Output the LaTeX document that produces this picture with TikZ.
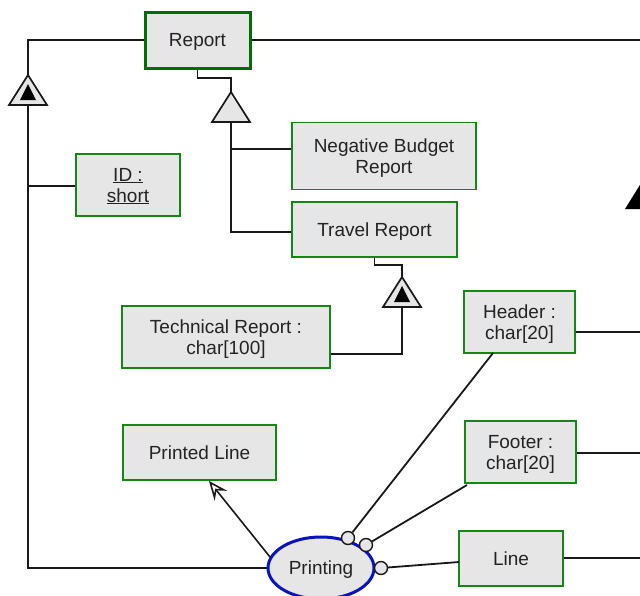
\documentclass[tikz,border=0pt]{standalone}
\usepackage{fontspec}
\setmainfont{Liberation Sans}
\usetikzlibrary{arrows.meta,shapes.geometric,calc}

\definecolor{boxfill}{RGB}{230,230,230}
\definecolor{boxgreen}{RGB}{20,135,20}
\definecolor{rootgreen}{RGB}{0,110,0}
\definecolor{ovalblue}{RGB}{10,20,190}
\definecolor{inktext}{RGB}{35,35,35}

\begin{document}
\begin{tikzpicture}[x=1pt,y=-1pt,
  labelfont/.style={font=\fontsize{19}{21}\selectfont, text=inktext, text depth=0pt},
  entity/.style={rectangle, draw=boxgreen, line width=1.7pt, fill=boxfill,
    inner sep=0pt, align=center, labelfont},
  rootentity/.style={entity, draw=rootgreen, line width=3pt},
  process/.style={ellipse, draw=ovalblue, line width=3pt, fill=boxfill,
    inner sep=0pt, labelfont},
  link/.style={draw=black!90, line width=1.8pt},
  isa/.style={draw=black!90, line width=1.7pt, fill=boxfill, line join=miter},
  port/.style={circle, draw=black!90, line width=1.4pt, fill=boxfill,
    minimum size=13pt, inner sep=0pt},
  pointer/.style={link, line width=1.6pt,
    -{Stealth[length=19pt, width=16pt, inset=7pt, fill=white]}},
]
\clip (0,0) rectangle (640,595);

% ---- entities ----
\node[rootentity, minimum width=105pt, minimum height=56pt] (report) at (197.5,40) {Report};
\node[entity, minimum width=184pt, minimum height=67pt] (neg) at (384,156) {Negative Budget\\Report};
\node[entity, minimum width=165pt, minimum height=55pt] (travel) at (374.5,229.5) {Travel Report};
\node[entity, minimum width=104pt, minimum height=62pt] (id) at (128,185) {\underline{ID :}\\\underline{short}};
\node[entity, minimum width=208pt, minimum height=62pt] (tech) at (226,337) {Technical Report :\\char[100]};
\node[entity, minimum width=111pt, minimum height=62pt] (header) at (519.5,322) {Header :\\char[20]};
\node[entity, minimum width=111pt, minimum height=62pt] (footer) at (520.5,452) {Footer :\\char[20]};
\node[entity, minimum width=153pt, minimum height=55pt] (printed) at (199.5,452.5) {Printed Line};
\node[entity, minimum width=104pt, minimum height=55pt] (line) at (511,558.5) {Line};
\node[process, minimum width=106pt, minimum height=62pt] (printing) at (321,568) {Printing};

% ---- helper points ----
\coordinate (k1) at (28,40);
\coordinate (a1) at (28,75);
\coordinate (b1) at (28,105);
\coordinate (j1) at (28,186);
\coordinate (k2) at (28,568);
\coordinate (e1) at (640,40);

\coordinate (k3) at (231,78);
\coordinate (a2) at (231,92);
\coordinate (b2) at (231,122);
\coordinate (j2) at (231,149);
\coordinate (k4) at (231,232);

\coordinate (k5) at (402,265);
\coordinate (a3) at (402,277);
\coordinate (b3) at (402,307);
\coordinate (k6) at (402,354);

\coordinate (e2) at (640,332);
\coordinate (e3) at (640,453);
\coordinate (e4) at (640,558);

\coordinate (hb) at (493,353);
\coordinate (fb) at (467,485);
\coordinate (lw) at (459,562);
\coordinate (tail) at (270,557);
\coordinate (tip) at (209,481);

% ---- connectors ----
\draw[link] (report.west) -- (k1) -- (a1);
\draw[link] (b1) -- (k2) -- (printing.west);
\draw[link] (j1) -- (j1 -| id.west);
\draw[link] (report.east) -- (e1);

\draw[link] (report.south) |- (k3) -- (a2);
\draw[link] (b2) -- (k4) -- (k4 -| travel.west);
\draw[link] (j2) -- (j2 -| neg.west);

\draw[link] (travel.south) |- (k5) -- (a3);
\draw[link] (b3) -- (k6) -- (k6 -| tech.east);

\draw[link] (e2 -| header.east) -- (e2);
\draw[link] (e3 -| footer.east) -- (e3);
\draw[link] (e4 -| line.east) -- (e4);

\draw[pointer] (tail) -- (tip);

% ---- generalisation triangles ----
% total (disjoint) marker
\draw[isa] (a1) -- ($(b1)+(19,0)$) -- ($(b1)+(-19,0)$) -- cycle;
\fill[black] ($(b1)+(0,-21)$) -- ($(b1)+(8,-5)$) -- ($(b1)+(-8,-5)$) -- cycle;
% plain marker
\draw[isa] (a2) -- ($(b2)+(19,0)$) -- ($(b2)+(-19,0)$) -- cycle;
% total marker under Travel Report
\draw[isa] (a3) -- ($(b3)+(19,0)$) -- ($(b3)+(-19,0)$) -- cycle;
\fill[black] ($(b3)+(0,-21)$) -- ($(b3)+(8,-5)$) -- ($(b3)+(-8,-5)$) -- cycle;
% marker continuing past the right edge
\fill[black] (625,209) -- (643,180) -- (661,209) -- cycle;

% ---- ports on the process ----
\node[port] (p1) at (348,538) {};
\node[port] (p2) at (366,545) {};
\node[port] (p3) at (381,568) {};
\draw[link] (p1) -- (hb);
\draw[link] (p2) -- (fb);
\draw[link] (p3) -- (lw);
\end{tikzpicture}
\end{document}
